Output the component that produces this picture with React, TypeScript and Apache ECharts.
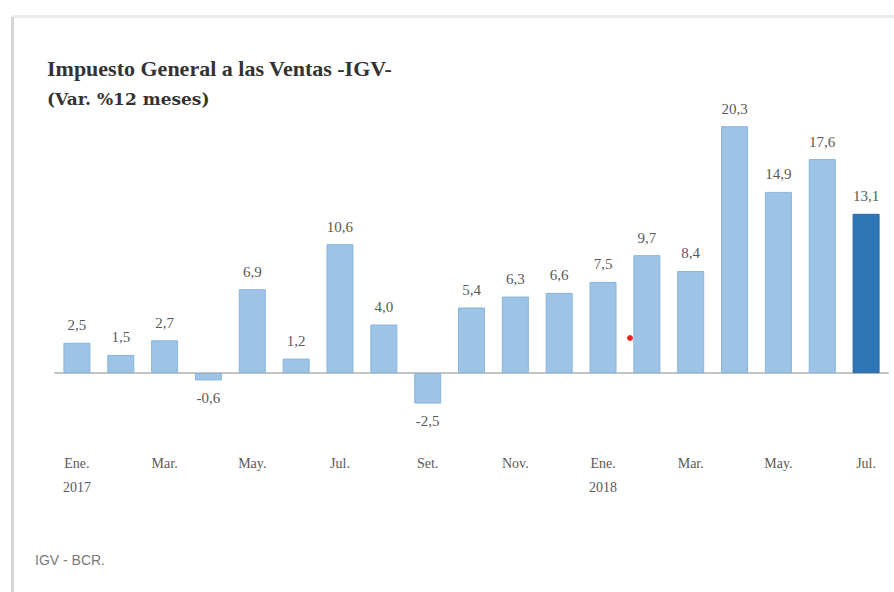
import React, { useEffect, useRef } from "react";
import * as echarts from "echarts";

const categories = [
  "Ene.\n2017", "Feb.", "Mar.", "Abr.", "May.", "Jun.", "Jul.", "Ago.", "Set.", "Oct.", "Nov.", "Dic.",
  "Ene.\n2018", "Feb.", "Mar.", "Abr.", "May.", "Jun.", "Jul.",
];
const values = [2.5, 1.5, 2.7, -0.6, 6.9, 1.2, 10.6, 4.0, -2.5, 5.4, 6.3, 6.6, 7.5, 9.7, 8.4, 20.3, 14.9, 17.6, 13.1];
const titleText = "Impuesto General a las Ventas -IGV-";
const subtitleText = "(Var. %12 meses)";
const sourceText = "IGV - BCR.";

const LIGHT = "#9dc3e6";
const DARK = "#2e75b6";

export default function App() {
  const ref = useRef<HTMLDivElement>(null);
  useEffect(() => {
    document.body.style.margin = "0";
    const chart = echarts.init(ref.current!, null, { renderer: "svg" });
    const last = values.length - 1;
    chart.setOption({
      animation: false,
      backgroundColor: "#ffffff",
      grid: { left: 55, right: 6, top: 69, height: 365 },
      xAxis: {
        type: "category",
        data: categories,
        axisLine: { onZero: true, lineStyle: { color: "#c4c4c4", width: 2 } },
        axisTick: { show: false },
        axisLabel: {
          interval: 1,
          margin: 17,
          color: "#5a5a5a",
          fontFamily: "Liberation Serif",
          fontSize: 14,
          lineHeight: 24,
        },
      },
      yAxis: { type: "value", min: -5, max: 25, show: false, splitLine: { show: false } },
      series: [
        {
          type: "bar",
          barWidth: 27,
          data: values.map((v, i) => ({
            value: v,
            itemStyle: {
              color: i === last ? DARK : LIGHT,
              borderColor: i === last ? "#2a6aa6" : "#8ab4dc",
              borderWidth: 1,
            },
            label: { position: v < 0 ? "bottom" : "top" },
          })),
          label: {
            show: true,
            distance: 10,
            color: "#5a5a5a",
            fontFamily: "Liberation Serif",
            fontSize: 15,
            formatter: (p: any) => Number(p.value).toFixed(1).replace(".", ","),
          },
        },
      ],
      graphic: [
        { type: "rect", shape: { x: 12, y: 15, width: 882, height: 3 }, style: { fill: "#ececec" }, silent: true },
        { type: "rect", shape: { x: 11, y: 17, width: 3, height: 575 }, style: { fill: "#d6d6d6" }, silent: true },
        {
          type: "text",
          left: 47,
          top: 57,
          style: { text: titleText, fill: "#333333", font: "bold 22px 'Liberation Serif'" },
        },
        {
          type: "text",
          left: 47,
          top: 90,
          style: { text: subtitleText, fill: "#333333", font: "bold 17px 'DejaVu Serif'" },
        },
        {
          type: "text",
          left: 35,
          top: 553,
          style: { text: sourceText, fill: "#7a7a7a", font: "14px 'Liberation Sans'" },
        },
        { type: "circle", shape: { cx: 630, cy: 338, r: 3 }, style: { fill: "#ff2020" }, silent: true },
      ],
    });
    return () => chart.dispose();
  }, []);
  return <div ref={ref} style={{ width: 894, height: 592, position: "absolute", left: 0, top: 0 }} />;
}
